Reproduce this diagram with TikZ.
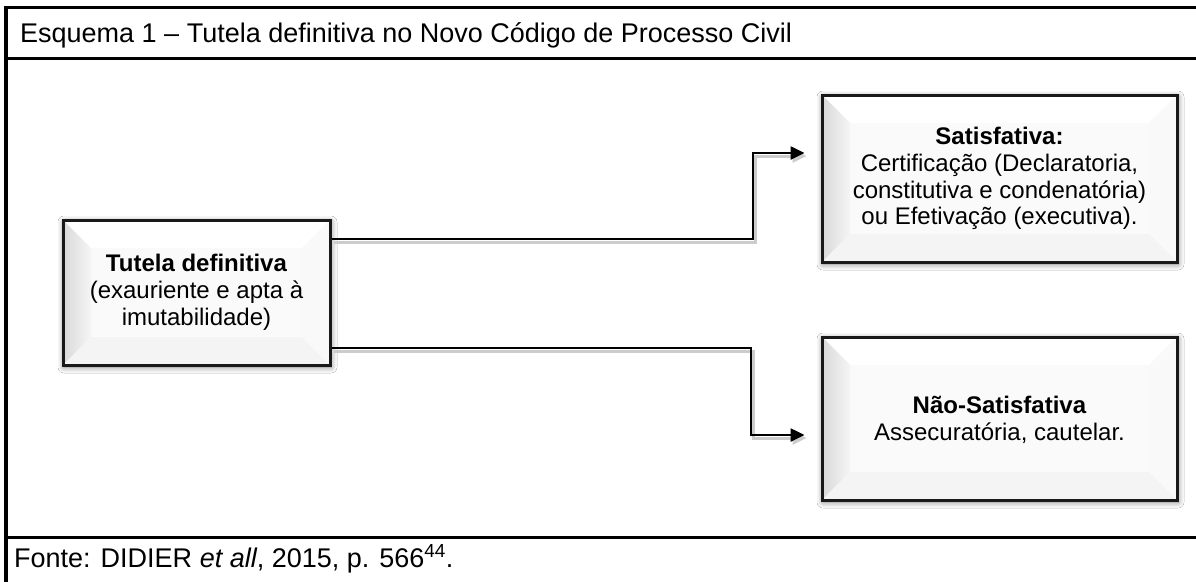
\documentclass[tikz,border=0pt]{standalone}
\usepackage{fontspec}
\setmainfont{Liberation Sans}
\usetikzlibrary{arrows.meta,shadows.blur}
\tikzset{
  frame/.style={line width=3.5pt, draw=black},
  bevel/.style={path picture={
    \coordinate (ppnw) at (path picture bounding box.north west);
    \coordinate (ppne) at (path picture bounding box.north east);
    \coordinate (ppsw) at (path picture bounding box.south west);
    \coordinate (ppse) at (path picture bounding box.south east);
    \coordinate (pinw) at ([shift={(28pt,-28pt)}]ppnw);
    \coordinate (pine) at ([shift={(-28pt,-28pt)}]ppne);
    \coordinate (pisw) at ([shift={(28pt,28pt)}]ppsw);
    \coordinate (pise) at ([shift={(-28pt,28pt)}]ppse);
    \fill[gray!4] (ppnw) rectangle (ppse);
    \fill[white] (ppnw) -- (ppne) -- (pine) -- (pinw) -- cycle;
    \shade[left color=gray!30, right color=gray!8] (ppnw) -- (pinw) -- (pisw) -- (ppsw) -- cycle;
    \fill[gray!9] (ppsw) -- (pisw) -- (pise) -- (ppse) -- cycle;
    \fill[gray!5] (ppne) -- (ppse) -- (pise) -- (pine) -- cycle;
  }},
  box/.style={draw=black!90, line width=3pt, bevel, align=center,
    blur shadow={shadow xshift=1pt, shadow yshift=-2pt, shadow blur radius=6pt, shadow opacity=55},
    font={\fontsize{24}{26.8}\selectfont}},
  conn/.style={line width=2.5pt, draw=black, -{Triangle[length=14pt,width=13pt]}},
  connsh/.style={line width=3pt, draw=black!20, -{Triangle[length=14pt,width=13pt]}},
  lbl/.style={font={\fontsize{27}{30}\selectfont}, inner sep=0pt}
}
\begin{document}
\begin{tikzpicture}[x=1pt,y=-1pt]
\useasboundingbox[fill=white] (0,0) rectangle (1196,581);
% frame
\draw[frame] (1200,7.5) -- (6,7.5) -- (6,583);
\draw[frame] (6,58.5) -- (1200,58.5);
\draw[frame] (6,537.5) -- (1200,537.5);
\node[lbl, anchor=base west] (title) at (20,42) {Esquema 1 -- Tutela definitiva no Novo Código de Processo Civil};
\node[lbl, anchor=base west] (src) at (14,567) {Fonte: DIDIER \textit{et all}, 2015, p. 566\textsuperscript{44}.};
% boxes
\node[box, minimum width=267pt, minimum height=145pt] (L) at (196.5,292.5)
  {\textbf{Tutela definitiva}\\(exauriente e apta à\\imutabilidade)};
\node[box, minimum width=355pt, minimum height=167pt] (S) at (999.5,178.5)
  {\textbf{Satisfativa:}\\Certificação (Declaratoria,\\constitutiva e condenatória)\\ou Efetivação (executiva).};
\node[box, minimum width=355pt, minimum height=163pt, text depth=-10pt] (N) at (999.5,418.5)
  {\textbf{Não-Satisfativa}\\Assecuratória, cautelar.};
% connectors
\coordinate (b1) at (753,153);
\coordinate (b2) at (751,435);
\begin{scope}[transform canvas={xshift=2pt,yshift=-3pt}]
\draw[connsh, shorten >=16pt] (L.east |- 0,239) -| (b1) -- (S.west |- b1);
\draw[connsh, shorten >=16pt] (L.east |- 0,348) -| (b2) -- (N.west |- b2);
\end{scope}
\draw[conn, shorten >=16pt] (L.east |- 0,239) -| (b1) -- (S.west |- b1);
\draw[conn, shorten >=16pt] (L.east |- 0,348) -| (b2) -- (N.west |- b2);
\end{tikzpicture}
\end{document}
